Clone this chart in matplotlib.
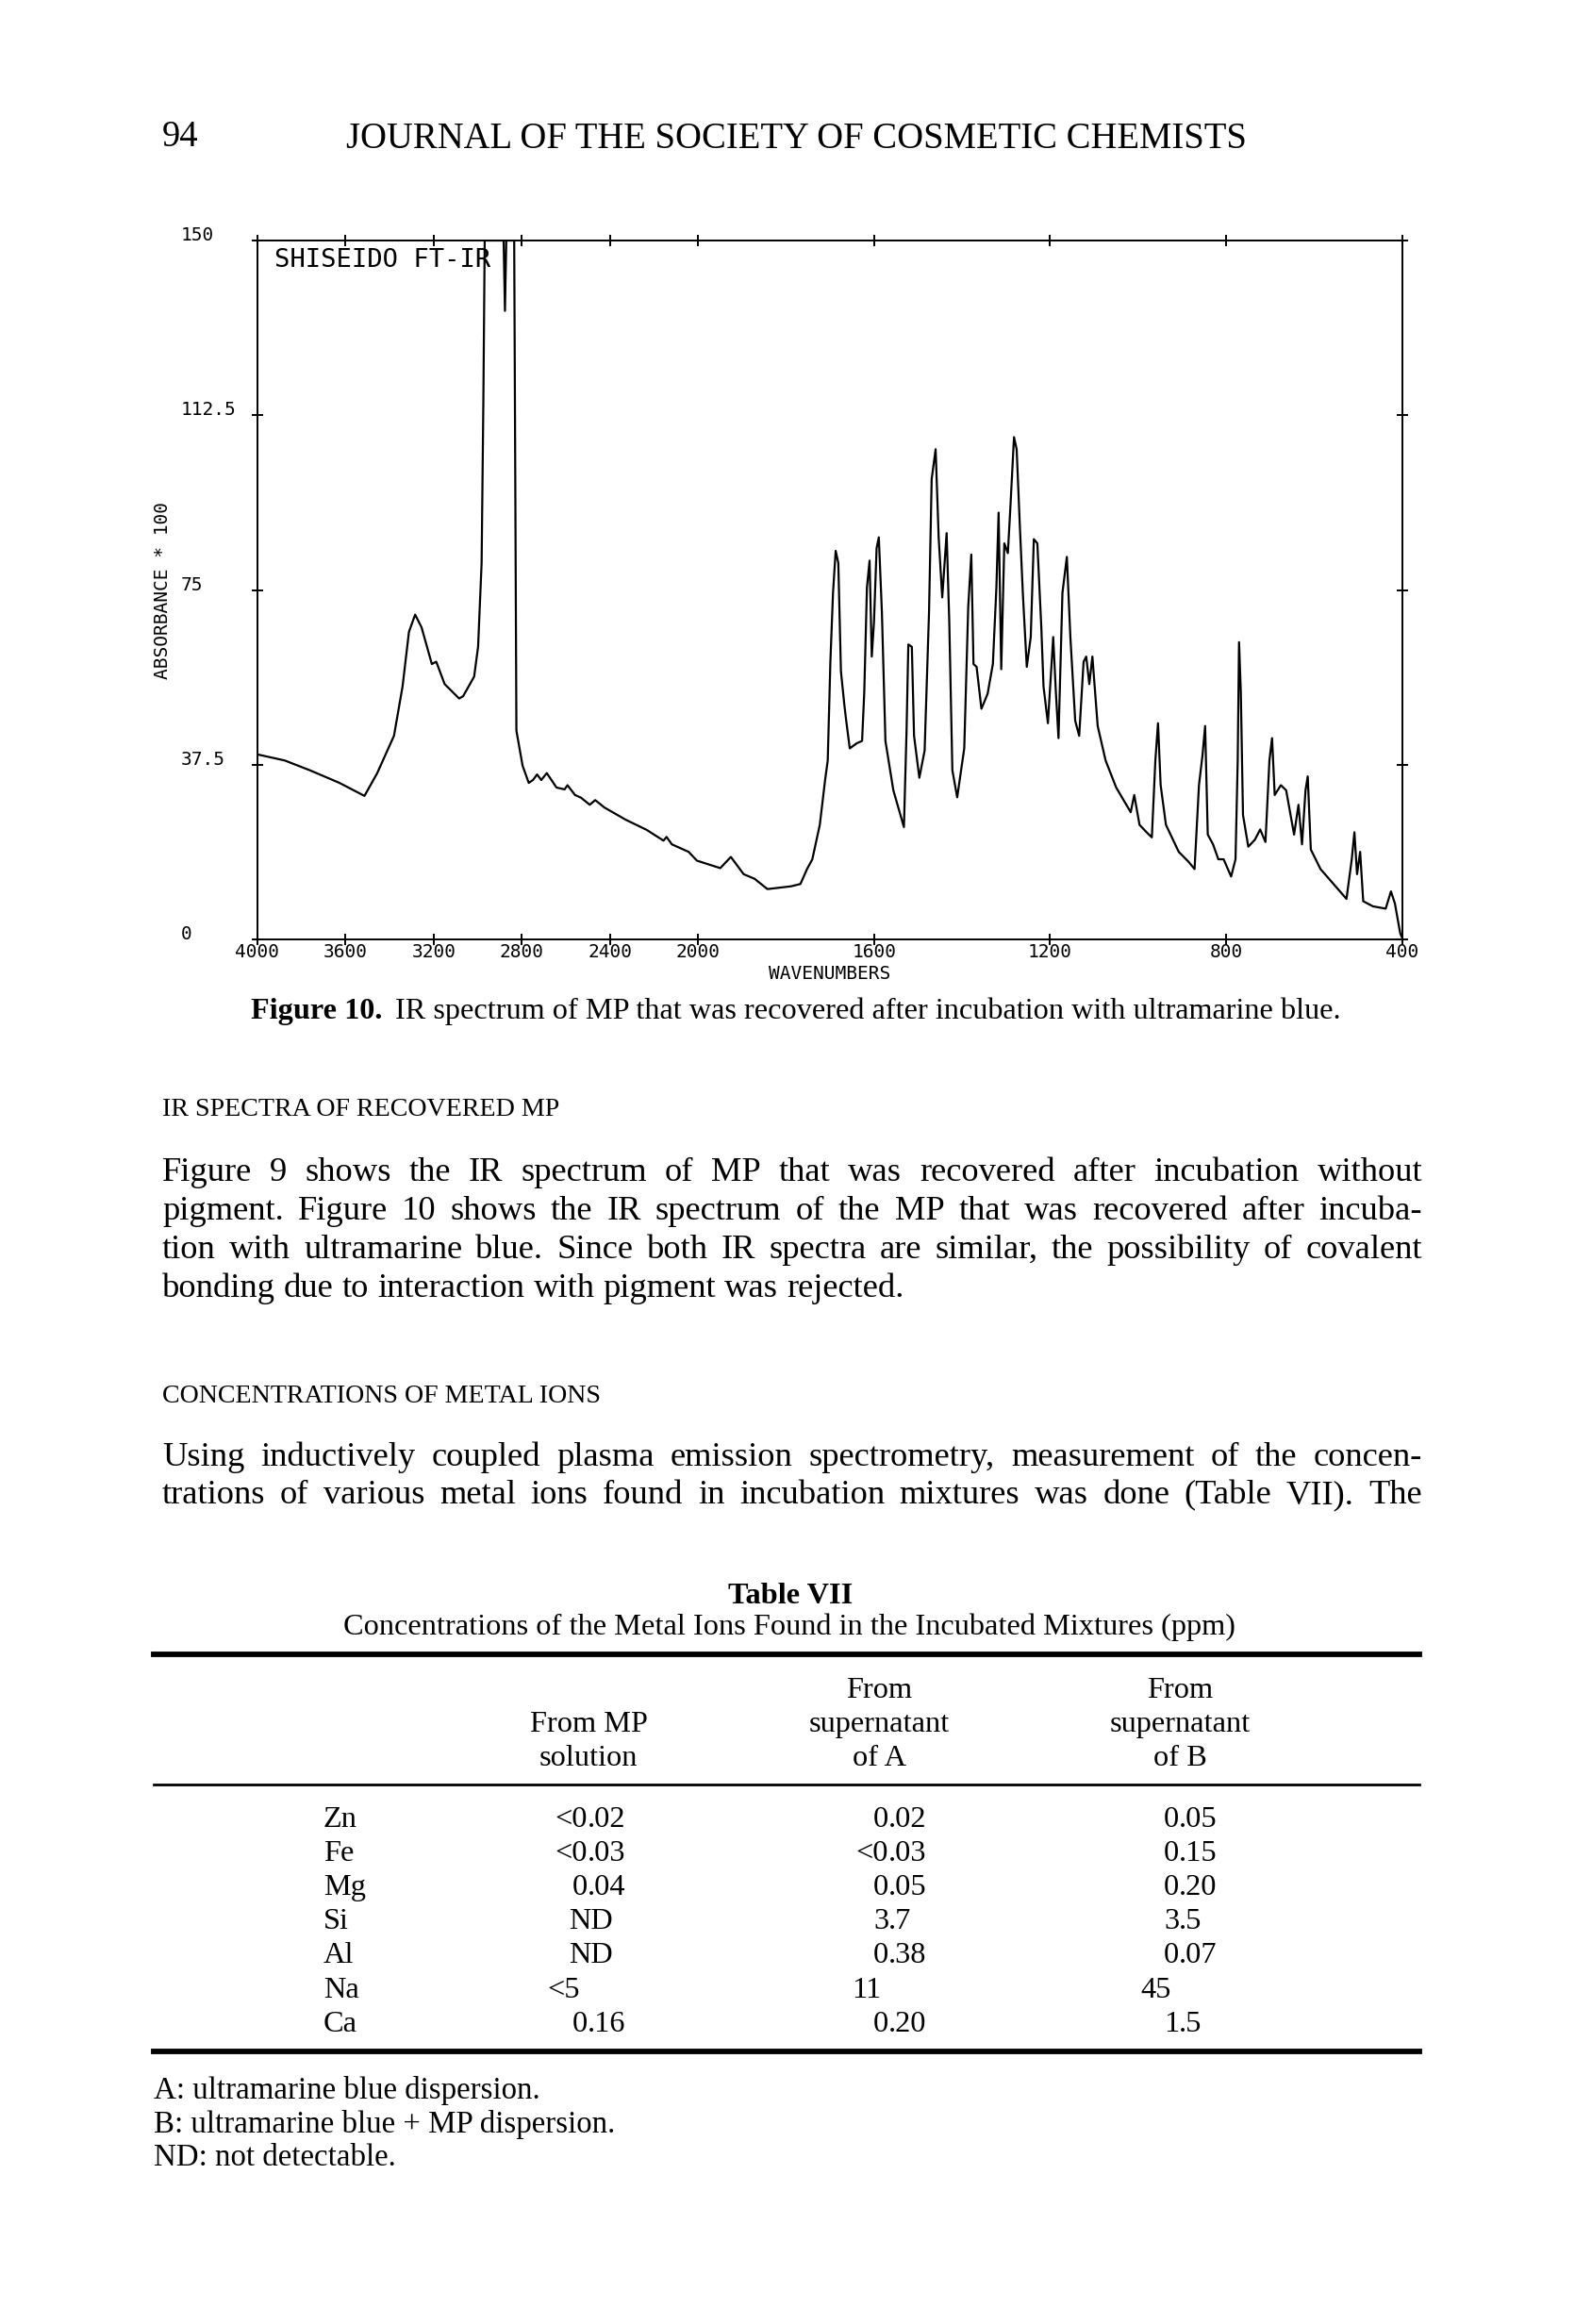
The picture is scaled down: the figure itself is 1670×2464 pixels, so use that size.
import matplotlib.pyplot as plt
import numpy as np

W, H = 1670, 2464
DPI = 100

# IR spectrum: wavenumber (cm-1) and absorbance x 100
wavenumber = [4000, 3876, 3762, 3628, 3514, 3456, 3380, 3341, 3312, 3284,
              3255, 3208, 3188, 3150, 3084, 3066, 3016, 2998, 2982, 2974,
              2968, 2882, 2876, 2870, 2834, 2824, 2796, 2768, 2749, 2730,
              2711, 2686, 2642, 2605, 2592, 2558, 2530, 2491, 2466, 2424,
              2328, 2232, 2156, 2142, 2118, 2042, 2004, 1949, 1925, 1896,
              1871, 1842, 1788, 1767, 1752, 1740, 1723, 1711, 1705, 1699,
              1693, 1687, 1681, 1675, 1667, 1663, 1655, 1639, 1627, 1622,
              1616, 1610, 1605, 1600, 1594, 1589, 1582, 1574, 1556, 1532,
              1526, 1522, 1514, 1509, 1497, 1485, 1475, 1469, 1460, 1453,
              1445, 1435, 1429, 1422, 1411, 1395, 1386, 1379, 1374, 1367,
              1356, 1342, 1330, 1322, 1317, 1311, 1304, 1296, 1291, 1282,
              1276, 1269, 1262, 1253, 1244, 1237, 1229, 1220, 1215, 1205,
              1193, 1187, 1181, 1172, 1162, 1154, 1143, 1134, 1124, 1118,
              1111, 1104, 1092, 1074, 1050, 1017, 1009, 997, 981, 969,
              961, 955, 949, 937, 908, 886, 872, 862, 854, 848,
              842, 830, 818, 806, 789, 779, 774, 771, 767, 762,
              750, 735, 723, 711, 702, 696, 690, 676, 664, 646,
              636, 628, 620, 615, 608, 586, 527, 515, 509, 503,
              496, 489, 467, 438, 426, 417, 405, 400]
absorbance = [39.7, 38.4, 36.3, 33.6, 30.8, 35.7, 43.7, 54.3, 66.0, 69.7,
              67.0, 59.1, 59.6, 54.8, 51.7, 52.2, 56.4, 62.8, 80.8, 115.8,
              150, 150, 134.9, 150, 150, 44.8, 37.3, 33.6, 34.2, 35.4,
              34.2, 35.7, 32.6, 32.2, 33.1, 31.0, 30.4, 28.9, 29.9, 28.3,
              25.7, 23.5, 21.2, 22.0, 20.4, 18.8, 16.9, 15.3, 17.7, 14.0,
              13.0, 10.8, 11.4, 11.9, 15.1, 17.2, 24.6, 34.2, 38.4, 59.6,
              74.4, 83.4, 80.8, 57.5, 50.1, 46.9, 41.0, 42.1, 42.6, 53.2,
              75.5, 81.3, 60.7, 68.1, 84.0, 86.3, 70.2, 42.6, 32.0, 24.1,
              44.8, 63.3, 62.8, 43.7, 34.7, 40.5, 70.2, 98.8, 105.2, 86.1,
              73.4, 87.2, 68.1, 36.3, 30.5, 41.0, 71.3, 82.6, 59.1, 58.5,
              49.5, 52.7, 59.1, 75.5, 91.6, 58.0, 85.0, 82.9, 91.4, 107.8,
              105.2, 89.3, 74.4, 58.5, 64.9, 85.9, 85.0, 67.0, 54.3, 46.4,
              64.9, 53.2, 43.2, 74.4, 82.1, 64.9, 46.9, 43.7, 59.6, 60.7,
              54.8, 60.7, 45.8, 38.4, 32.6, 27.3, 31.0, 24.6, 23.0, 21.9,
              38.4, 46.4, 33.1, 24.6, 18.8, 16.7, 15.1, 33.1, 39.5, 45.8,
              22.5, 20.4, 17.2, 17.2, 13.5, 17.2, 38.4, 63.8, 53.2, 26.7,
              19.9, 21.4, 23.6, 20.9, 38.4, 43.2, 31.0, 33.1, 32.0, 22.5,
              28.9, 20.4, 32.0, 35.0, 19.3, 15.1, 8.7, 17.2, 23.0, 14.0,
              18.8, 8.2, 7.1, 6.6, 10.3, 7.7, 1.3, 0.2]

x_ticks = [4000, 3600, 3200, 2800, 2400, 2000, 1600, 1200, 800, 400]
x_tick_labels = ['4000', '3600', '3200', '2800', '2400', '2000',
                 '1600', '1200', '800', '400']
y_ticks = [0, 37.5, 75, 112.5, 150]
y_tick_labels = ['0', '37.5', '75', '112.5', '150']

# Table VII
elements = ['Zn', 'Fe', 'Mg', 'Si', 'Al', 'Na', 'Ca']
from_mp = ['<0.02', '<0.03', '0.04', 'ND', 'ND', '<5', '0.16']
from_a = ['0.02', '<0.03', '0.05', '3.7', '0.38', '11', '0.20']
from_b = ['0.05', '0.15', '0.20', '3.5', '0.07', '45', '1.5']
col_heads = [['', 'From MP', 'solution'],
             ['From', 'supernatant', 'of A'],
             ['From', 'supernatant', 'of B']]
footnotes = ['A: ultramarine blue dispersion.',
             'B: ultramarine blue + MP dispersion.',
             'ND: not detectable.']

para1 = [
    "Figure 9 shows the IR spectrum of MP that was recovered after incubation without",
    "pigment. Figure 10 shows the IR spectrum of the MP that was recovered after incuba-",
    "tion with ultramarine blue. Since both IR spectra are similar, the possibility of covalent",
    "bonding due to interaction with pigment was rejected.",
]
para2 = [
    "Using inductively coupled plasma emission spectrometry, measurement of the concen-",
    "trations of various metal ions found in incubation mixtures was done (Table VII). The",
]

SERIF = 'Liberation Serif'
MONO = 'DejaVu Sans Mono'

fig = plt.figure(figsize=(W / DPI, H / DPI), dpi=DPI)
fig.patch.set_facecolor('white')
renderer = fig.canvas.get_renderer()


def put(x, y, s, size, **kw):
    kw.setdefault('family', SERIF)
    kw.setdefault('va', 'baseline')
    return fig.text(x / W, 1 - y / H, s, fontsize=size, color='black', **kw)


def width(t):
    return t.get_window_extent(renderer).width


def fit_size(s, target, **kw):
    t = put(0, 0, s, 20, **kw)
    w = width(t)
    t.remove()
    return 20 * target / w


def justify(line, x0, x1, y, size, last=False):
    words = line.split()
    arts = [put(x0, y, w, size) for w in words]
    ws = [width(a) for a in arts]
    if last or len(words) == 1:
        gap = width(put(0, 0, 'x x', size)) - width(put(0, 0, 'xx', size))
        for t in fig.texts[-2:]:
            t.remove()
    else:
        gap = (x1 - x0 - sum(ws)) / (len(words) - 1)
    x = x0
    for a, w in zip(arts, ws):
        a.set_x(x / W)
        x += w + gap


def hrule(y, x0, x1, lw):
    fig.add_artist(plt.Line2D([x0 / W, x1 / W], [1 - y / H, 1 - y / H],
                              transform=fig.transFigure, color='black', lw=lw))


# ---- running head ----
head_size = fit_size('JOURNAL OF THE SOCIETY OF COSMETIC CHEMISTS', 953)
put(172, 155, '94', head_size)
put(367, 157, 'JOURNAL OF THE SOCIETY OF COSMETIC CHEMISTS', head_size)

# ---- spectrum ----
def fwd(x):
    x = np.asarray(x, dtype=float)
    return np.where(x > 2000, 2000 + (x - 2000) / 2, x)


def inv(u):
    u = np.asarray(u, dtype=float)
    return np.where(u > 2000, 2000 + (u - 2000) * 2, u)


left, right, top, bottom = 273, 1487, 255, 996
ax = fig.add_axes([left / W, 1 - bottom / H, (right - left) / W, (bottom - top) / H])
ax.set_xscale('function', functions=(fwd, inv))
ax.plot(wavenumber, absorbance, color='black', lw=1.6)
ax.set_xlim(4000, 400)
ax.set_ylim(0, 150)

ax.set_xticks(x_ticks, labels=x_tick_labels)
ax.set_yticks(y_ticks, labels=y_tick_labels)
ax.minorticks_off()
ax.tick_params(direction='inout', length=8.6, width=1.4, top=True, right=True,
               labelsize=14)
ax.tick_params(axis='x', pad=-1.5)
ax.tick_params(axis='y', pad=54)
for lab in ax.get_xticklabels() + ax.get_yticklabels():
    lab.set_family(MONO)
for lab in ax.get_yticklabels():
    lab.set_ha('left')
    lab.set_va('baseline')
for sp in ax.spines.values():
    sp.set_linewidth(1.4)

ax.set_xlabel('WAVENUMBERS', family=MONO, fontsize=14, va='top')
ax.xaxis.set_label_coords(0.5, -0.0364)
ax.text(-0.0824, 0.5, 'ABSORBANCE * 100', transform=ax.transAxes, rotation=90,
        ha='center', va='center', family=MONO, fontsize=14)
ax.text(0.015, 0.989, 'SHISEIDO FT-IR', transform=ax.transAxes, ha='left', va='top',
        family=MONO, fontsize=19.5)

# ---- figure caption ----
cap_bold = 'Figure 10.'
cap_rest = 'IR spectrum of MP that was recovered after incubation with ultramarine blue.'
t1 = put(266, 1080, cap_bold, 20, weight='bold')
t2 = put(266, 1080, cap_rest, 20)
scale = 1154 / (width(t1) + width(t2) + 12)
t1.set_fontsize(20 * scale)
t2.set_fontsize(20 * scale)
t2.set_x((266 + width(t1) + 12 * scale) / W)

# ---- body text ----
hd_size = fit_size('IR SPECTRA OF RECOVERED MP', 423)
body_size = min(fit_size(para1[-1], 853),
                min(fit_size(l, 1336 - 5 * l.count(' ')) for l in para1 + para2))
put(172, 1183, 'IR SPECTRA OF RECOVERED MP', hd_size)
for i, line in enumerate(para1):
    justify(line, 172, 1508, 1252 + 41 * i, body_size, last=(i == len(para1) - 1))
put(172, 1487, 'CONCENTRATIONS OF METAL IONS', hd_size)
for i, line in enumerate(para2):
    justify(line, 172, 1508, 1554 + 40.5 * i, body_size)

# ---- Table VII ----
tab_size = fit_size('Concentrations of the Metal Ions Found in the Incubated Mixtures (ppm)', 945)
put(838, 1700, 'Table VII', tab_size, weight='bold', ha='center')
put(837, 1733, 'Concentrations of the Metal Ions Found in the Incubated Mixtures (ppm)',
    tab_size, ha='center')
hrule(1754, 163, 1505, 4.2)
col_x = [624, 932, 1251]
head_y = [1800, 1836, 1872]
for cx, lines in zip(col_x, col_heads):
    for y, s in zip(head_y, lines):
        if s:
            put(cx, y, s, tab_size, ha='center')
hrule(1892, 163, 1505, 2.0)

dec_x = [623, 942, 1250]
row_y = [1937 + 36.1 * i for i in range(len(elements))]
for y, el, a, b, c in zip(row_y, elements, from_mp, from_a, from_b):
    put(343, y, el, tab_size)
    for cx, dx, v in zip(col_x, dec_x, (a, b, c)):
        if v == 'ND':
            put(cx + 2, y, v, tab_size, ha='center')
        elif '.' in v:
            ip, fp = v.split('.')
            put(dx, y, ip, tab_size, ha='right')
            put(dx, y, '.' + fp, tab_size, ha='left')
        else:
            put(dx - 8, y, v, tab_size, ha='right')
hrule(2175, 163, 1505, 4.2)

foot_size = fit_size(footnotes[1], 489)
for i, s in enumerate(footnotes):
    put(163, 2225 + 35.5 * i, s, foot_size)

fig.savefig('out.png', dpi=DPI, facecolor='white')
